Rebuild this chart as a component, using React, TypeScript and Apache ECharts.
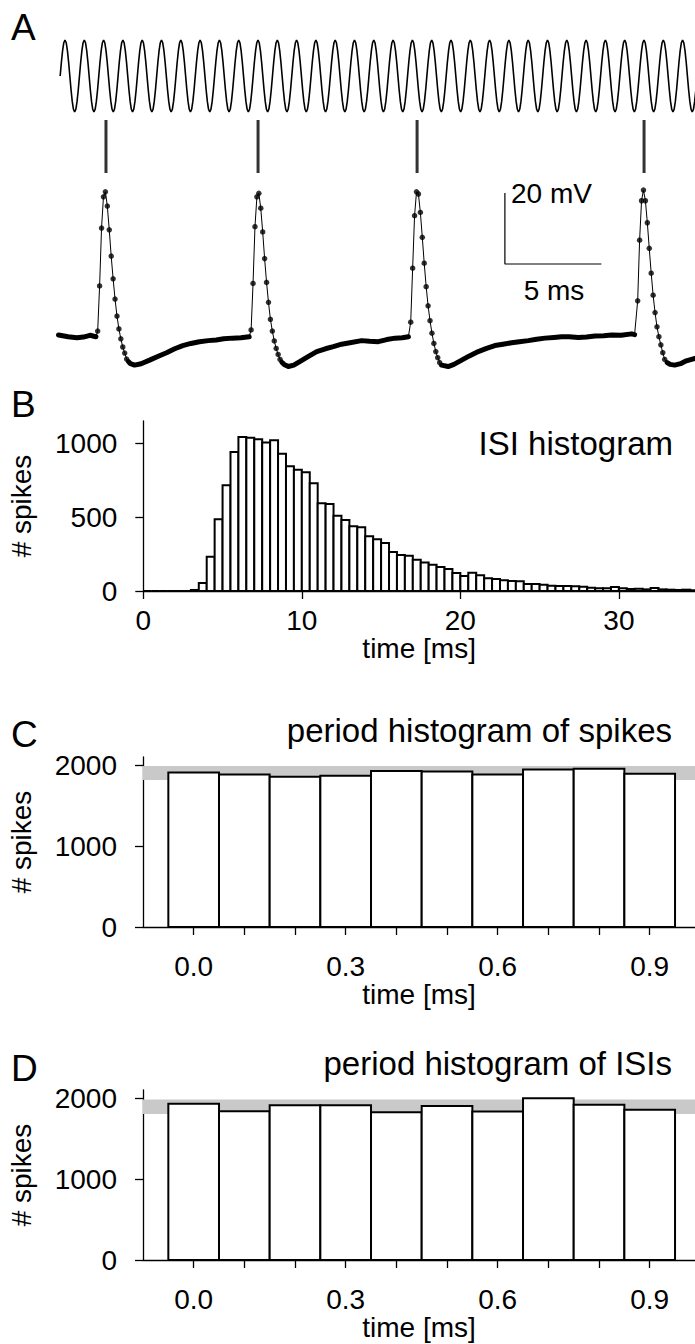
import React, { useEffect, useRef } from "react";
import * as echarts from "echarts";

const FONT = "Liberation Sans";

// ---------- Panel A: stimulus, spike raster, membrane trace ----------
const TRACE_T_MAX = 32.98; // ms visible
const STIM_PERIOD_MS = 1.0;
const STIM_ONSET_MS = 0.087;
const STIM_CYCLES = 34;
// one cycle of the sinusoidal stimulus, 16 samples
const STIM_CYCLE = [0, 0.383, 0.707, 0.924, 1, 0.924, 0.707, 0.383, 0, -0.383, -0.707, -0.924, -1, -0.924, -0.707, -0.383];

const SPIKE_TIMES = [2.46, 10.34, 18.58, 30.34];

const SAMPLE_DT = 0.1; // ms
const SPIKE_ONSETS = [2.03, 9.98, 18.25, 30.01];
const SPIKE_1 = [-63.6, -50.9, -34.6, -25.8, -24.4, -28.4, -35.1, -42.5, -48.9, -54.6, -59.4, -63.0, -65.8, -68.1, -69.8, -71.5];
const SPIKE_2 = [-63.3, -50.2, -34.2, -25.8, -24.8, -29.0, -35.7, -43.2, -49.9, -55.5, -60.3, -63.6, -66.4, -68.5, -70.2, -71.6];
const SPIKE_3 = [-61.1, -45.9, -31.1, -24.4, -25.0, -30.2, -37.2, -44.5, -51.1, -56.5, -60.7, -64.2, -67.1, -69.4, -71.1, -72.5];
const SPIKE_4 = [-55.1, -38.0, -26.9, -23.9, -26.9, -33.1, -40.3, -47.3, -53.5, -58.4, -62.4, -65.2, -67.5, -69.7, -71.6];

const BASELINE_0 = [[0, -64.7], [0.5, -65.2], [0.95, -65.5], [1.29, -65.3], [1.63, -64.8], [1.94, -65.2]];
const RECOVERY_1 = [[3.62, -72.2], [3.73, -72.8], [3.94, -73.2], [4.28, -72.8], [4.72, -71.8], [5.17, -70.7], [5.6, -69.7], [6.02, -68.6], [6.44, -67.7], [6.86, -67.1], [7.3, -66.6], [7.76, -66.3], [8.17, -66.1], [8.56, -65.8], [9.01, -65.6], [9.45, -65.5], [9.88, -65.2]];
const RECOVERY_2 = [[11.57, -72.4], [11.69, -73.0], [11.91, -73.6], [12.19, -73.2], [12.5, -72.2], [12.93, -70.8], [13.38, -69.4], [13.83, -68.6], [14.24, -68.0], [14.67, -67.3], [15.1, -66.9], [15.71, -66.3], [16.12, -66.5], [16.57, -66.6], [17.01, -66.0], [17.44, -65.6], [17.81, -65.5], [18.13, -65.2]];
const RECOVERY_3 = [[19.85, -73.2], [20.19, -73.6], [20.49, -73.0], [20.89, -71.8], [21.29, -70.6], [21.75, -69.4], [22.18, -68.5], [22.61, -67.7], [23.03, -67.3], [23.48, -66.9], [23.88, -66.6], [24.34, -66.3], [24.77, -65.9], [25.21, -65.6], [25.67, -65.4], [26.07, -65.2], [26.46, -65.2], [26.93, -65.4], [27.36, -65.3], [27.8, -65.0], [28.25, -64.9], [28.66, -64.7], [29.15, -64.8], [29.7, -64.4], [29.85, -64.6]];
const RECOVERY_4 = [[31.54, -72.5], [31.69, -73.0], [31.93, -73.2], [32.23, -72.8], [32.53, -72.0], [32.98, -71.3]];

const SCALE_BAR = [[23.13, -24.72], [23.13, -44.72], [28.13, -44.72]]; // 20 mV, 5 ms

// ---------- Panel B: ISI histogram ----------
const ISI_BIN_WIDTH = 0.5; // ms
const ISI_COUNTS = [
  0, 0, 0, 0, 0, 0, 7, 54, 232, 486, 715, 940, 1041, 1036, 1026, 1004, 1020, 929, 844, 821,
  803, 729, 594, 588, 509, 480, 438, 431, 370, 350, 325, 263, 243, 238, 212, 193, 178, 163, 148, 122,
  102, 123, 107, 87, 81, 73, 68, 66, 48, 47, 42, 35, 34, 33, 32, 29, 22, 18, 19, 27,
  18, 14, 16, 11, 20, 11, 9, 7, 9, 5,
];
const ISI_X_TICKS = [0, 10, 20, 30];
const ISI_Y_TICKS = [0, 500, 1000];

// ---------- Panels C and D: period histograms ----------
const PHASE_BIN_WIDTH = 0.1; // ms
const PHASE_CENTERS = [0.0, 0.1, 0.2, 0.3, 0.4, 0.5, 0.6, 0.7, 0.8, 0.9];
const PHASE_LABELS = [0.0, 0.3, 0.6, 0.9];
const SPIKE_PHASE_COUNTS = [1910, 1885, 1855, 1868, 1926, 1922, 1885, 1947, 1954, 1893];
const ISI_PHASE_COUNTS = [1931, 1837, 1911, 1911, 1825, 1903, 1833, 1997, 1919, 1857];
const SPIKE_PHASE_BAND = [1815, 1988];
const ISI_PHASE_BAND = [1805, 1982];
const PHASE_Y_TICKS = [0, 1000, 2000];

const toPairs = (onset: number, vals: number[]) => vals.map((v, i) => [+(onset + i * SAMPLE_DT).toFixed(3), v]);

export default function App() {
  const ref = useRef<HTMLDivElement>(null);

  useEffect(() => {
    if (!ref.current) return;
    const chart = echarts.init(ref.current, undefined, { renderer: "svg" });

    // stimulus
    const stim: number[][] = [];
    for (let c = 0; c < STIM_CYCLES; c++) {
      STIM_CYCLE.forEach((v, k) => {
        stim.push([STIM_ONSET_MS + (c + k / STIM_CYCLE.length) * STIM_PERIOD_MS, v]);
      });
    }

    const spikes = [SPIKE_1, SPIKE_2, SPIKE_3, SPIKE_4].map((s, i) => toPairs(SPIKE_ONSETS[i], s));
    const recov = [BASELINE_0, RECOVERY_1, RECOVERY_2, RECOVERY_3, RECOVERY_4];
    const trace: number[][] = [];
    recov.forEach((r, i) => {
      trace.push(...r);
      if (spikes[i]) trace.push(...spikes[i]);
    });
    const spikeSamples = spikes.flat();

    const axisLine = { show: true, onZero: false, lineStyle: { color: "#000", width: 1.3 } };
    const axisTick = (vals: number[]) => ({ show: true, length: 8, inside: false, customValues: vals, lineStyle: { color: "#000", width: 1.3 } });
    const labelStyle = { color: "#000", fontSize: 28, fontFamily: FONT };
    const plain = (v: number) => String(v);
    const hidden = { show: false };

    const histRender = (binW: number, offset: number) => (params: any, api: any) => {
      const x0 = api.value(0) - offset;
      const y = api.value(1);
      const p0 = api.coord([x0, y]);
      const p1 = api.coord([x0 + binW, 0]);
      return {
        type: "rect",
        shape: { x: p0[0], y: p0[1], width: p1[0] - p0[0], height: p1[1] - p0[1] },
        style: { fill: "#fff", stroke: "#000", lineWidth: 2 },
      };
    };
    const bandRender = (params: any, api: any) => {
      const cs = params.coordSys;
      const yHi = api.coord([0, api.value(2)])[1];
      const yLo = api.coord([0, api.value(1)])[1];
      return { type: "rect", shape: { x: cs.x, y: yHi, width: cs.width, height: yLo - yHi }, style: { fill: "#c9c9c9" } };
    };

    const phaseXAxis = (grid: number, gap: number) => ({
      gridIndex: grid, type: "value", min: -0.1, max: 0.9894,
      axisLine, axisTick: axisTick(PHASE_CENTERS),
      axisLabel: { ...labelStyle, margin: 25, customValues: PHASE_LABELS, formatter: (v: number) => v.toFixed(1) },
      splitLine: hidden,
      name: "time [ms]", nameLocation: "middle", nameGap: gap, nameTextStyle: labelStyle,
    });
    const phaseYAxis = (grid: number) => ({
      gridIndex: grid, type: "value", min: 0, max: 2100,
      axisLine, axisTick: axisTick(PHASE_Y_TICKS),
      axisLabel: { ...labelStyle, margin: 26, customValues: PHASE_Y_TICKS, formatter: plain },
      splitLine: hidden,
      name: "# spikes", nameLocation: "middle", nameGap: 108, nameRotate: 90, nameTextStyle: labelStyle,
    });

    const gridBase = { right: 0, outerBoundsMode: "none", containLabel: false };

    const option: any = {
      animation: false,
      backgroundColor: "#fff",
      textStyle: { fontFamily: FONT },
      grid: [
        { ...gridBase, left: 58.5, top: 40, height: 72 },
        { ...gridBase, left: 58.5, top: 120, height: 53 },
        { ...gridBase, left: 58.5, top: 176.25, height: 213 },
        { ...gridBase, left: 143.3, top: 421, height: 170 },
        { ...gridBase, left: 143, top: 757, height: 170 },
        { ...gridBase, left: 143, top: 1090, height: 170 },
      ],
      xAxis: [
        { gridIndex: 0, type: "value", min: 0, max: TRACE_T_MAX, show: false },
        { gridIndex: 1, type: "value", min: 0, max: TRACE_T_MAX, show: false },
        { gridIndex: 2, type: "value", min: 0, max: TRACE_T_MAX, show: false },
        {
          gridIndex: 3, type: "value", min: 0, max: 34.8,
          axisLine, axisTick: axisTick(ISI_X_TICKS),
          axisLabel: { ...labelStyle, margin: 15, customValues: ISI_X_TICKS, formatter: plain },
          splitLine: hidden,
          name: "time [ms]", nameLocation: "middle", nameGap: 41, nameTextStyle: labelStyle,
        },
        phaseXAxis(4, 48),
        phaseXAxis(5, 41),
      ],
      yAxis: [
        { gridIndex: 0, type: "value", min: -1, max: 1, show: false },
        { gridIndex: 1, type: "value", min: 0, max: 1, show: false },
        { gridIndex: 2, type: "value", min: -80, max: -20, show: false },
        {
          gridIndex: 3, type: "value", min: 0, max: 1150,
          axisLine, axisTick: axisTick(ISI_Y_TICKS),
          axisLabel: { ...labelStyle, margin: 26, customValues: ISI_Y_TICKS, formatter: plain },
          splitLine: hidden,
          name: "# spikes", nameLocation: "middle", nameGap: 108, nameRotate: 90, nameTextStyle: labelStyle,
        },
        phaseYAxis(4),
        phaseYAxis(5),
      ],
      series: [
        {
          name: "stimulus", type: "line", xAxisIndex: 0, yAxisIndex: 0, data: stim,
          showSymbol: false, symbol: "none", clip: false, silent: true,
          lineStyle: { color: "#000", width: 1.6 },
        },
        {
          name: "spike raster", type: "scatter", xAxisIndex: 1, yAxisIndex: 1,
          data: SPIKE_TIMES.map((t) => [t, 0.5]), symbol: "rect", symbolSize: [3, 53],
          itemStyle: { color: "#000" }, silent: true,
        },
        {
          name: "trace", type: "line", xAxisIndex: 2, yAxisIndex: 2, data: trace,
          showSymbol: false, symbol: "none", clip: false, silent: true,
          lineStyle: { color: "#000", width: 1 },
        },
        ...recov.map((r, i) => ({
          name: "recovery" + i, type: "line", xAxisIndex: 2, yAxisIndex: 2, data: r,
          showSymbol: false, symbol: "none", clip: false, silent: true,
          lineStyle: { color: "#000", width: 5, cap: "round", join: "round" },
        })),
        {
          name: "samples", type: "scatter", xAxisIndex: 2, yAxisIndex: 2, data: spikeSamples,
          symbol: "circle", symbolSize: 5.5, itemStyle: { color: "#000" }, silent: true,
        },
        {
          name: "scale bar", type: "line", xAxisIndex: 2, yAxisIndex: 2, data: SCALE_BAR,
          showSymbol: false, symbol: "none", clip: false, silent: true,
          lineStyle: { color: "#000", width: 1.2 },
        },
        {
          name: "ISI histogram", type: "custom", xAxisIndex: 3, yAxisIndex: 3,
          data: ISI_COUNTS.map((c, i) => [i * ISI_BIN_WIDTH, c]),
          renderItem: histRender(ISI_BIN_WIDTH, 0), silent: true, z: 2,
        },
        {
          name: "band C", type: "custom", xAxisIndex: 4, yAxisIndex: 4,
          data: [[0, SPIKE_PHASE_BAND[0], SPIKE_PHASE_BAND[1]]], encode: { x: 0, y: 1 },
          renderItem: bandRender, silent: true, z: 1,
        },
        {
          name: "period histogram of spikes", type: "custom", xAxisIndex: 4, yAxisIndex: 4,
          data: PHASE_CENTERS.map((c, i) => [c, SPIKE_PHASE_COUNTS[i]]),
          renderItem: histRender(PHASE_BIN_WIDTH, PHASE_BIN_WIDTH / 2), silent: true, z: 2,
        },
        {
          name: "band D", type: "custom", xAxisIndex: 5, yAxisIndex: 5,
          data: [[0, ISI_PHASE_BAND[0], ISI_PHASE_BAND[1]]], encode: { x: 0, y: 1 },
          renderItem: bandRender, silent: true, z: 1,
        },
        {
          name: "period histogram of ISIs", type: "custom", xAxisIndex: 5, yAxisIndex: 5,
          data: PHASE_CENTERS.map((c, i) => [c, ISI_PHASE_COUNTS[i]]),
          renderItem: histRender(PHASE_BIN_WIDTH, PHASE_BIN_WIDTH / 2), silent: true, z: 2,
        },
      ],
      graphic: [
        { type: "text", left: 11, top: 9, style: { text: "A", fontSize: 37, fontFamily: FONT, fill: "#000" } },
        { type: "text", left: 11, top: 386, style: { text: "B", fontSize: 37, fontFamily: FONT, fill: "#000" } },
        { type: "text", left: 11, top: 716, style: { text: "C", fontSize: 37, fontFamily: FONT, fill: "#000" } },
        { type: "text", left: 11, top: 1050, style: { text: "D", fontSize: 37, fontFamily: FONT, fill: "#000" } },
        { type: "text", x: 511, y: 193, style: { text: "20 mV", fontSize: 28, fontFamily: FONT, fill: "#000", verticalAlign: "middle" } },
        { type: "text", x: 554, y: 290, style: { text: "5 ms", fontSize: 28, fontFamily: FONT, fill: "#000", align: "center", verticalAlign: "middle" } },
        { type: "text", x: 673, y: 443, style: { text: "ISI histogram", fontSize: 33, fontFamily: FONT, fill: "#000", align: "right", verticalAlign: "middle" } },
        { type: "text", x: 672, y: 730, style: { text: "period histogram of spikes", fontSize: 33, fontFamily: FONT, fill: "#000", align: "right", verticalAlign: "middle" } },
        { type: "text", x: 672, y: 1063, style: { text: "period histogram of ISIs", fontSize: 33, fontFamily: FONT, fill: "#000", align: "right", verticalAlign: "middle" } },
      ],
    };

    chart.setOption(option);
    return () => chart.dispose();
  }, []);

  return (
    <div
      ref={ref}
      style={{ position: "fixed", left: 0, top: 0, width: 695, height: 1344, background: "#fff" }}
    />
  );
}
